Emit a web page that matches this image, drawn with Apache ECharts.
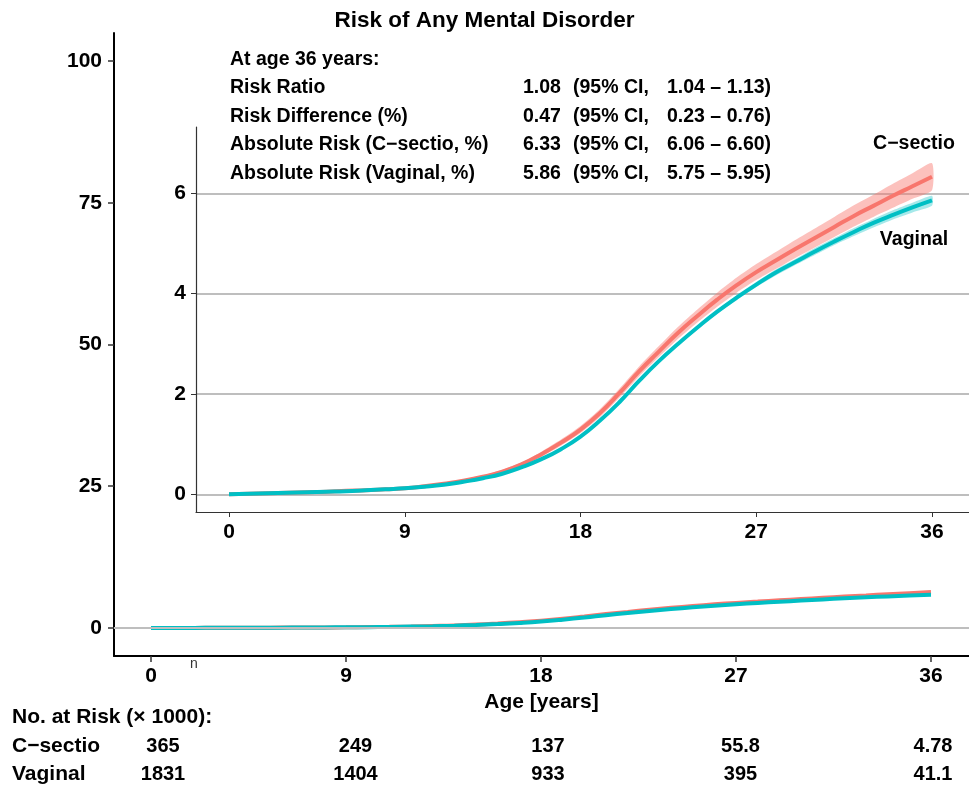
<!DOCTYPE html>
<html>
<head>
<meta charset="utf-8">
<script src="https://cdn.jsdelivr.net/npm/echarts@6/dist/echarts.min.js"></script>
<style>
  html, body { margin: 0; padding: 0; background: #fff; }
  #chart { width: 969px; height: 792px; }
</style>
</head>
<body>
<div id="chart"></div>
<script>
// cumulative risk (%) by age
const ages = [0,1,2,3,4,5,6,7,8,9,10,11,12,13,14,15,16,17,18,19,20,21,22,23,24,25,26,27,28,29,30,31,32,33,34,35,36];
const csRisk = [0,0.01,0.02,0.03,0.04,0.05,0.07,0.08,0.10,0.12,0.16,0.21,0.27,0.35,0.45,0.60,0.80,1.03,1.29,1.62,2.02,2.45,2.84,3.22,3.56,3.88,4.17,4.43,4.66,4.89,5.11,5.33,5.55,5.75,5.95,6.14,6.33];
const csLower = [0,0,0.01,0.02,0.03,0.04,0.06,0.07,0.09,0.10,0.14,0.19,0.24,0.32,0.41,0.56,0.75,0.97,1.22,1.54,1.93,2.35,2.73,3.10,3.43,3.74,4.02,4.27,4.49,4.71,4.92,5.13,5.34,5.53,5.71,5.89,6.06];
const csUpper = [0,0.02,0.03,0.04,0.05,0.06,0.08,0.09,0.11,0.14,0.18,0.23,0.30,0.38,0.49,0.64,0.85,1.09,1.36,1.70,2.11,2.55,2.95,3.34,3.69,4.02,4.32,4.59,4.83,5.07,5.30,5.53,5.76,5.97,6.19,6.40,6.60];
const vgRisk = [0,0.01,0.02,0.03,0.04,0.05,0.06,0.08,0.10,0.12,0.15,0.19,0.25,0.32,0.41,0.54,0.70,0.90,1.15,1.47,1.84,2.26,2.65,3.00,3.33,3.64,3.92,4.18,4.42,4.63,4.84,5.04,5.23,5.41,5.57,5.72,5.86];
const vgLower = [0,0,0.01,0.02,0.03,0.04,0.05,0.07,0.09,0.11,0.14,0.18,0.24,0.31,0.40,0.53,0.69,0.88,1.13,1.45,1.82,2.24,2.62,2.97,3.29,3.60,3.87,4.13,4.36,4.57,4.77,4.97,5.15,5.32,5.48,5.62,5.75];
const vgUpper = [0,0.02,0.03,0.04,0.05,0.06,0.07,0.09,0.11,0.13,0.16,0.20,0.26,0.33,0.42,0.55,0.71,0.92,1.17,1.49,1.86,2.28,2.68,3.03,3.37,3.68,3.97,4.23,4.48,4.69,4.91,5.11,5.31,5.49,5.66,5.81,5.95];

const xTicks = [0, 9, 18, 27, 36];
const outerYTicks = [0, 25, 50, 75, 100];
const innerYTicks = [0, 2, 4, 6];

// numbers at risk (x1000)
const riskTimes = [0, 9, 18, 27, 36];
const csAtRisk = ['365', '249', '137', '55.8', '4.78'];
const vgAtRisk = ['1831', '1404', '933', '395', '41.1'];

// summary at 36 years
const statNames = ['Risk Ratio', 'Risk Difference (%)', 'Absolute Risk (C\u2212sectio, %)', 'Absolute Risk (Vaginal, %)'];
const statValues = ['1.08', '0.47', '6.33', '5.86'];
const statCIs = ['1.04 \u2013 1.13)', '0.23 \u2013 0.76)', '6.06 \u2013 6.60)', '5.75 \u2013 5.95)'];

const FONT = '"Liberation Sans", Arial, Helvetica, sans-serif';
const RED = '#F8766D';
const TEAL = '#00BFC4';
const GRID_GREY = '#bebebe';

const pairs = ys => ages.map((a, i) => [a, ys[i]]);
const tableItems = riskTimes.map((t, i) => [t, 0, csAtRisk[i]])
  .concat(riskTimes.map((t, i) => [t, 1, vgAtRisk[i]]));

const chart = echarts.init(document.getElementById('chart'), null, { renderer: 'canvas' });

const tickLabel = { fontFamily: FONT, fontWeight: 'bold', fontSize: 21, color: '#000' };

function txt(text, x, y, opts) {
  return {
    type: 'text', silent: true,
    style: Object.assign({
      text: text, x: x, y: y, fill: '#000',
      font: 'bold 19.5px ' + FONT, align: 'left', verticalAlign: 'middle'
    }, opts || {})
  };
}

const graphics = [txt('At age 36 years:', 230, 60)];
statNames.forEach((s, i) => {
  const y = 88 + i * 28.5;
  graphics.push(txt(s, 230, y));
  graphics.push(txt(statValues[i], 523, y));
  graphics.push(txt('(95% CI,', 573, y));
  graphics.push(txt(statCIs[i], 667, y));
});
graphics.push(txt('C\u2212sectio', 914, 144, { align: 'center' }));
graphics.push(txt('Vaginal', 914, 240, { align: 'center' }));
graphics.push(txt('n', 194, 664, { font: '14px ' + FONT, fill: '#333', align: 'center' }));
graphics.push(txt('No. at Risk (\u00d7 1000):', 12, 717, { font: 'bold 21px ' + FONT }));
graphics.push(txt('C\u2212sectio', 12, 746, { font: 'bold 21px ' + FONT }));
graphics.push(txt('Vaginal', 12, 774, { font: 'bold 21px ' + FONT }));

// confidence band drawn as one polygon through the inset axes
function band(lower, upper, color) {
  return {
    type: 'custom', xAxisIndex: 1, yAxisIndex: 1, silent: true, z: 1,
    data: [[ages[0], lower[0]]],
    renderItem: (params, api) => {
      const pts = ages.map((a, i) => api.coord([a, upper[i]]));
      for (let i = ages.length - 1; i >= 0; i--) pts.push(api.coord([ages[i], lower[i]]));
      return { type: 'polygon', shape: { points: pts, smooth: 0.2 }, style: { fill: color } };
    }
  };
}

const option = {
  backgroundColor: '#fff',
  animation: false,
  title: {
    text: 'Risk of Any Mental Disorder',
    left: 'center', top: 4,
    textStyle: { fontFamily: FONT, fontWeight: 'bold', fontSize: 22.5, color: '#000' }
  },
  graphic: graphics,
  grid: [
    { left: 114, right: 0, top: 33, bottom: 136, containLabel: false, outerBoundsMode: 'none' },
    { left: 196, right: 0, top: 127, bottom: 280, containLabel: false, outerBoundsMode: 'none' },
    { left: 163, right: 36, top: 732, bottom: 4, containLabel: false, outerBoundsMode: 'none' }
  ],
  xAxis: [
    {
      gridIndex: 0, type: 'value', min: -1.708, max: 37.754,
      axisLine: { onZero: false, lineStyle: { color: '#000', width: 2 } },
      axisTick: { customValues: xTicks, length: 6, lineStyle: { color: '#333', width: 1.5 } },
      axisLabel: Object.assign({ customValues: xTicks, margin: 10 }, tickLabel),
      splitLine: { show: false },
      name: 'Age [years]', nameLocation: 'middle', nameGap: 30,
      nameTextStyle: { fontFamily: FONT, fontWeight: 'bold', fontSize: 21, color: '#000' }
    },
    {
      gridIndex: 1, type: 'value', min: -1.690, max: 37.895,
      axisLine: { onZero: false, lineStyle: { color: '#333', width: 1.2 } },
      axisTick: { customValues: xTicks, length: 5, lineStyle: { color: '#333', width: 1 } },
      axisLabel: Object.assign({ customValues: xTicks, margin: 10 }, tickLabel),
      splitLine: { show: false }
    },
    { gridIndex: 2, type: 'value', min: 0, max: 36, show: false }
  ],
  yAxis: [
    {
      gridIndex: 0, type: 'value', min: -4.94, max: 104.94,
      axisLine: { show: true, onZero: false, lineStyle: { color: '#000', width: 2 } },
      axisTick: { show: true, customValues: outerYTicks, length: 6, lineStyle: { color: '#333', width: 1.5 } },
      axisLabel: Object.assign({ customValues: outerYTicks, margin: 12 }, tickLabel),
      splitLine: { show: false }
    },
    {
      gridIndex: 1, type: 'value', min: -0.353, max: 7.322,
      axisLine: { show: true, onZero: false, lineStyle: { color: '#333', width: 1.2 } },
      axisTick: { show: true, customValues: innerYTicks, length: 5, lineStyle: { color: '#333', width: 1 } },
      axisLabel: Object.assign({ customValues: innerYTicks, margin: 10 }, tickLabel),
      splitLine: { show: true, lineStyle: { color: GRID_GREY, width: 2 } }
    },
    { gridIndex: 2, type: 'category', data: ['C\u2212sectio', 'Vaginal'], inverse: true, show: false }
  ],
  series: [
    // outer panel
    {
      type: 'line', xAxisIndex: 0, yAxisIndex: 0, data: [], silent: true, z: 0,
      markLine: {
        silent: true, symbol: 'none', label: { show: false }, animation: false,
        lineStyle: { color: GRID_GREY, width: 2, type: 'solid' },
        data: [{ yAxis: 0 }]
      }
    },
    {
      name: 'C\u2212sectio', type: 'line', xAxisIndex: 0, yAxisIndex: 0,
      data: pairs(csRisk), smooth: true, symbol: 'none', z: 3,
      lineStyle: { color: RED, width: 4 }
    },
    {
      name: 'Vaginal', type: 'line', xAxisIndex: 0, yAxisIndex: 0,
      data: pairs(vgRisk), smooth: true, symbol: 'none', z: 4,
      lineStyle: { color: TEAL, width: 4 }
    },
    // inset panel: confidence bands and curves
    band(csLower, csUpper, 'rgba(248,118,109,0.45)'),
    band(vgLower, vgUpper, 'rgba(0,191,196,0.35)'),
    {
      type: 'line', xAxisIndex: 1, yAxisIndex: 1, data: pairs(csRisk),
      smooth: true, symbol: 'none', z: 3, lineStyle: { color: RED, width: 4 }
    },
    {
      type: 'line', xAxisIndex: 1, yAxisIndex: 1, data: pairs(vgRisk),
      smooth: true, symbol: 'none', z: 4, lineStyle: { color: TEAL, width: 4 }
    },
    // numbers at risk table
    {
      type: 'custom', xAxisIndex: 2, yAxisIndex: 2, silent: true,
      data: tableItems.map(d => [d[0], d[1]]),
      renderItem: (params, api) => {
        const p = api.coord([api.value(0), api.value(1)]);
        return {
          type: 'text', x: p[0], y: p[1],
          style: {
            text: tableItems[params.dataIndex][2], fill: '#000',
            font: 'bold 20px ' + FONT, align: 'center', verticalAlign: 'middle'
          }
        };
      }
    }
  ]
};

chart.setOption(option);
</script>
</body>
</html>
